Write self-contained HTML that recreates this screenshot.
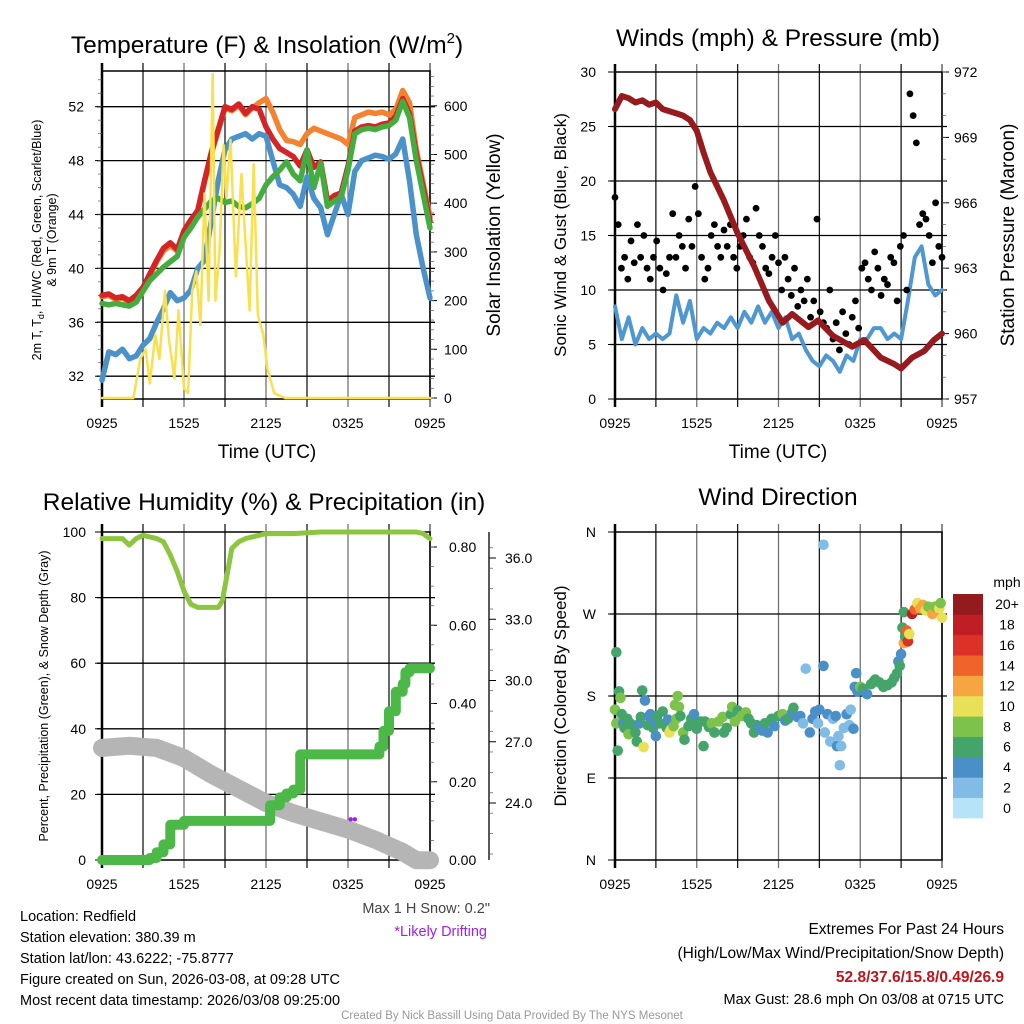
<!DOCTYPE html>
<html><head><meta charset="utf-8">
<style>
html,body{margin:0;padding:0;background:#fff;}
svg{display:block;font-family:"Liberation Sans",Arial,sans-serif;}
</style></head>
<body>
<svg id="c" width="1024" height="1024" viewBox="0 0 1024 1024" xmlns="http://www.w3.org/2000/svg">
<rect width="1024" height="1024" fill="#fff"/>
<!-- titles -->
<text x="267" y="53" font-size="24.5" text-anchor="middle">Temperature (F) &amp; Insolation (W/m<tspan font-size="15" dy="-10">2</tspan><tspan dy="10">)</tspan></text>
<text x="778" y="46" font-size="24.5" text-anchor="middle">Winds (mph) &amp; Pressure (mb)</text>
<text x="264" y="510" font-size="24.5" text-anchor="middle">Relative Humidity (%) &amp; Precipitation (in)</text>
<text x="778" y="505" font-size="24.5" text-anchor="middle">Wind Direction</text>
<!-- axis titles -->
<text x="267" y="458" font-size="19" text-anchor="middle">Time (UTC)</text>
<text x="778" y="458" font-size="19" text-anchor="middle">Time (UTC)</text>
<g transform="translate(41,240) rotate(-90)">
<text x="0" y="0" font-size="12.5" text-anchor="middle">2m T, T<tspan font-size="9" dy="3">d</tspan><tspan dy="-3">, HI/WC (Red, Green, Scarlet/Blue)</tspan></text>
<text x="0" y="15" font-size="12.5" text-anchor="middle">&amp; 9m T (Orange)</text></g>
<text transform="translate(500,235) rotate(-90)" font-size="19" text-anchor="middle">Solar Insolation (Yellow)</text>
<text transform="translate(566,235) rotate(-90)" font-size="17" text-anchor="middle">Sonic Wind &amp; Gust (Blue, Black)</text>
<text transform="translate(1014,235) rotate(-90)" font-size="19" text-anchor="middle">Station Pressure (Maroon)</text>
<text transform="translate(48,696) rotate(-90)" font-size="12.5" text-anchor="middle">Percent, Precipitation (Green), &amp; Snow Depth (Gray)</text>
<text transform="translate(566,696) rotate(-90)" font-size="17" text-anchor="middle">Direction (Colored By Speed)</text>
<!-- footer texts -->
<g font-size="14.5">
<text x="20" y="921">Location: Redfield</text>
<text x="20" y="942">Station elevation: 380.39 m</text>
<text x="20" y="963">Station lat/lon: 43.6222; -75.8777</text>
<text x="20" y="984">Figure created on Sun, 2026-03-08, at 09:28 UTC</text>
<text x="20" y="1005">Most recent data timestamp: 2026/03/08 09:25:00</text>
</g>
<text x="490" y="913" font-size="14.5" fill="#444" text-anchor="end">Max 1 H Snow: 0.2"</text>
<text x="487" y="936" font-size="14.5" fill="#a020f0" text-anchor="end">*Likely Drifting</text>
<g font-size="15.5" text-anchor="end">
<text x="1004" y="934">Extremes For Past 24 Hours</text>
<text x="1004" y="958">(High/Low/Max Wind/Precipitation/Snow Depth)</text>
<text x="1004" y="982" fill="#c0141c" font-weight="bold">52.8/37.6/15.8/0.49/26.9</text>
<text x="1004" y="1004" font-size="14.5">Max Gust: 28.6 mph On 03/08 at 0715 UTC</text>
</g>
<text x="512" y="1019" font-size="11.5" fill="#999" text-anchor="middle">Created By Nick Bassill Using Data Provided By The NYS Mesonet</text>
</svg>
<script>
// ---------- DATA ----------
const timeLabels = ["0925","1525","2125","0325","0925"];
const tempLeftTicks = [32,36,40,44,48,52];
const solarTicks = [0,100,200,300,400,500,600];
const airTemp = [38.0,38.1,37.8,37.9,37.6,38.0,38.6,39.6,40.6,41.5,41.9,41.4,42.8,43.6,44.3,46.5,48.6,50.3,52.0,51.8,52.2,51.5,52.0,51.8,50.5,49.6,48.9,48.6,48.3,47.6,48.8,47.5,47.9,45.0,45.4,45.6,47.6,50.2,50.5,50.6,50.5,50.7,50.8,51.3,52.6,51.5,48.5,46.0,43.5];
const dewTemp = [37.4,37.3,37.4,37.3,37.2,37.5,38.3,39.1,39.6,40.1,40.5,40.9,42.3,43.0,43.8,44.4,45.0,45.2,44.9,45.0,44.6,44.5,44.8,45.2,46.2,46.8,47.3,47.9,47.0,46.5,48.8,46.0,47.8,44.6,45.0,45.3,47.3,50.0,50.3,50.4,50.3,50.5,50.6,51.0,52.4,51.2,48.0,45.5,43.0];
const temp9m = [37.9,38.0,37.7,37.8,37.5,37.9,38.5,39.5,40.5,41.3,41.7,41.3,42.7,43.5,44.2,46.4,48.5,50.2,51.9,51.7,52.1,51.4,51.9,52.3,52.6,51.6,50.3,49.5,49.4,49.2,50.0,50.4,50.2,50.0,49.8,49.6,49.2,51.2,51.4,51.6,51.5,51.6,51.4,51.8,53.2,52.3,48.8,46.3,43.8];
const windChill = [31.7,33.8,33.6,34.0,33.3,33.5,34.3,34.8,36.0,37.0,38.2,37.6,37.8,38.4,40.0,40.6,43.5,46.5,48.8,49.6,49.8,50.0,49.6,50.0,49.8,48.0,46.2,46.0,45.5,44.6,46.8,45.2,44.5,42.5,44.0,45.5,44.0,47.2,48.0,48.2,48.4,48.3,48.1,48.5,49.6,46.5,42.5,40.0,37.8];
const solarHours = [0,2.3,2.8,3.2,3.5,3.9,4.2,4.6,4.9,5.3,5.6,6.0,6.3,6.6,6.9,7.2,7.5,7.8,8.1,8.3,8.6,8.9,9.1,9.4,9.8,10.2,10.5,10.8,11.1,11.4,11.8,12.1,12.6,13.4,24];
const solarVals = [0,0,80,100,30,130,80,220,120,40,180,20,10,220,260,150,420,200,665,200,300,520,410,530,250,460,320,180,480,170,130,60,10,0,0];

const windTicks = [0,5,10,15,20,25,30];
const pressTicks = [957,960,963,966,969,972];
const sonicWind = [8.5,5.5,7.5,5.0,6.5,5.5,6.0,5.5,6.0,9.5,7.0,9.0,5.5,6.5,6.0,7.0,6.5,7.5,6.5,8.0,7.0,8.5,7.0,8.0,6.5,7.5,5.5,6.0,4.5,3.5,3.0,4.0,3.5,2.5,4.0,3.5,5.5,5.5,6.5,6.5,5.5,6.0,5.5,9.0,13.0,14.0,10.5,9.5,10.0];
const gusts = [18.5,16,12,13,11,14.5,12.5,16,13,15,12,11,13,14.5,12,10,11.5,13,17,13,15,14,12,16.5,14,19.5,17,13,11,12,15,16,14,13,15.5,14,16,13,12,14,15,16.5,13,12.5,17.5,15,14,12,11.5,13,15,12.5,10,13,11,9.5,12,8.5,10,9,11,7.5,9,16.5,8,7,6.5,10,5.5,7,4.5,8,6,5,7.5,9,6.5,12,12.5,11,10,13.5,12,9.5,11,10.5,13,12.5,9,14,15,10,28,26,23.5,16,17,16.5,15,12.5,18,14,13];
const pressHours = [0,0.5,1,1.5,2,2.5,3,3.5,4,4.5,5,5.5,6,6.5,7,8,9,10.2,11.3,12.3,13,14.2,14.9,16,17.4,18.3,19.5,20.5,21,21.8,22.7,23.4,24];
const pressure = [970.3,970.9,970.8,970.6,970.7,970.5,970.6,970.3,970.2,970.1,970.0,969.8,969.3,968.3,967.4,966.1,964.6,963.1,961.5,960.5,960.9,960.3,960.6,959.9,959.4,959.7,958.9,958.6,958.4,958.9,959.2,959.7,960.0];

const pctTicks = [0,20,40,60,80,100];
const precipTicks = ["0.00","0.20","0.40","0.60","0.80"];
const snowTicks = ["24.0","27.0","30.0","33.0","36.0"];
const rhHours = [0,1.5,2,2.5,3,4,4.5,5,5.5,6,6.5,7,8,8.5,8.8,9.2,9.5,10,10.5,12,14,16,20,23,23.5,24];
const rh = [98,98,96,98,99,98,97,93,88,82,78,77,77,77,79,88,95,97,98,99.5,99.5,100,100,100,99.5,98];
const precipHours = [0,3.5,4,4.5,5,6,12,12.3,13,13.5,14,14.5,20,20.3,20.6,21,21.5,22,22.2,22.5,24];
const precip = [0,0.005,0.02,0.04,0.09,0.10,0.10,0.14,0.16,0.17,0.18,0.27,0.27,0.29,0.33,0.38,0.43,0.45,0.48,0.49,0.49];
const snowHours = [0,2,4,6,8,10,12,14,16,18,20,22,23,24];
const snowDepth = [26.7,26.8,26.7,26.2,25.4,24.7,24.0,23.5,23.1,22.7,22.2,21.6,21.2,21.2];
const driftHours = [18.2,18.5];
const driftDepth = [23.2,23.2];

const dirLabels = ["N","E","S","W","N"];
const dirHours = [0,0.1,0.1,0.2,0.3,0.4,0.5,0.6,0.7,0.9,1,1.1,1.3,1.5,1.6,1.8,1.9,2,2.1,2.2,2.4,2.5,2.6,2.8,3,3,3.1,3.3,3.5,3.8,3.9,4,4.1,4.3,4.4,4.5,4.6,4.7,4.8,5,5.1,5.4,5.6,5.8,6,6.1,6.3,6.5,6.6,6.9,7.1,7.3,7.6,7.9,8,8.2,8.5,8.6,8.8,9,9.3,9.6,9.8,10,10.2,10.4,10.6,10.8,11,11.2,11.5,11.7,12,12.3,12.5,12.7,13,13.1,13.4,13.6,13.8,14,14.3,14.5,14.7,14.9,15,15.3,15.3,15.4,15.6,15.8,16,16.2,16.3,16.4,16.5,16.6,16.8,17,17.2,17.3,17.5,17.6,17.7,17.8,18,18.2,18.5,18.8,19,19.1,19.4,19.7,19.8,20,20.3,20.5,20.7,20.8,20.9,21,21.1,21.2,21.2,21.3,21.4,21.5,21.6,21.8,22,22.2,22.4,22.6,22.8,23,23.3,23.5,23.8,23.9,24];
const dirs = [165,228,150,120,185,178,160,150,145,155,138,150,148,140,130,150,157,186,124,175,148,158,160,145,150,136,158,150,163,145,154,140,143,147,170,155,180,168,158,140,132,147,155,160,144,150,152,125,152,146,150,140,152,157,140,145,160,168,152,164,158,162,155,150,140,148,146,142,150,140,155,147,158,160,153,155,162,167,157,158,150,210,140,155,163,150,165,213,346,140,160,130,155,158,125,136,104,125,145,160,148,165,144,190,205,185,190,188,182,193,196,198,195,190,192,192,195,200,205,218,213,226,255,238,272,245,252,240,248,270,275,282,276,280,274,278,270,278,276,282,266];
const speeds = [7,6,8,6,6,8,6,4,6,6,8,6,6,6,6,4,6,6,9,4,6,4,4,6,4,4,6,6,6,6,4,9,10,8,8,8,8,8,6,8,6,6,6,4,6,6,6,6,6,6,8,6,8,8,6,6,6,8,8,6,8,8,6,6,6,6,4,4,6,4,6,4,6,8,4,6,4,6,4,4,2,2,4,4,4,2,4,4,2,2,4,2,2,4,4,2,1,2,2,4,2,2,4,4,4,4,8,6,4,6,6,6,6,6,6,6,6,6,6,4,6,4,6,12,6,6,14,16,10,18,14,10,12,12,10,8,12,8,10,8,10];
const cbLabels = ["0","2","4","6","8","10","12","14","16","18","20+"];
const cbColors = ["#b7e3f8","#80bce6","#4a8fc8","#45a46a","#7dc24a","#e8e057","#f7a540","#f0632a","#dc3127","#be1e24","#931b1e"];

// ---------- HELPERS ----------
const NS="http://www.w3.org/2000/svg";
const svg=document.getElementById('c');
function mk(tag,attrs,parent){const e=document.createElementNS(NS,tag);for(const k in attrs)e.setAttribute(k,attrs[k]);(parent||svg).appendChild(e);return e;}
function txt(s,x,y,size,anchor,parent){const t=mk('text',{x:x,y:y,'font-size':size,'text-anchor':anchor},parent);t.textContent=s;return t;}
function hx(x0,x1){return h=>x0+(x1-x0)*h/24;}
function lin(v0,y0,v1,y1){return v=>y0+(y1-y0)*(v-v0)/(v1-v0);}

function frame(name,X0,X1,Y0,Y1,hGrid){
  const g=mk('g',{});
  
  
  const X=hx(X0,X1);
  for(let h=3;h<24;h+=3) mk('line',{x1:X(h),x2:X(h),y1:Y0-8,y2:Y1+8,stroke:'#000','stroke-width':1.3,'stroke-opacity':(h%6==0?0.55:0.9)},g);
  hGrid.forEach(y=>mk('line',{x1:X0-5,x2:X1+5,y1:y,y2:y,stroke:'#000','stroke-width':1.3},g));
  mk('rect',{x:X0,y:Y0,width:X1-X0,height:Y1-Y0,fill:'none',stroke:'#000','stroke-width':1.5},g);
  mk('line',{x1:X0,x2:X0,y1:Y0-8,y2:Y1+8,stroke:'#000','stroke-width':2.5},g);
  mk('line',{x1:X1,x2:X1,y1:Y0-8,y2:Y1+8,stroke:'#000','stroke-width':1.5,'stroke-opacity':0.6},g);
  const lg=mk('g',{});
  
  
  timeLabels.forEach((s,i)=>txt(s,X(i*6),Y1+29,14,'middle',lg));
  return X;
}
function poly(pts,color,w,name,extra){
  const p=mk('polyline',Object.assign({points:pts.map(q=>q[0].toFixed(1)+','+q[1].toFixed(1)).join(' '),fill:'none',stroke:color,'stroke-width':w,'stroke-linejoin':'round','stroke-linecap':'round'},extra||{}));
  
  
  return p;
}

// ---------- PANEL 1 ----------
(function(){
  const X0=102,X1=430,Y0=71,Y1=399;
  const yT=lin(52,106.7,48,160.6), yS=lin(0,398,600,105.8);
  const X=frame('temp-panel',X0,X1,Y0,Y1,tempLeftTicks.map(yT));
  const lt=mk('g',{});
  
  
  tempLeftTicks.forEach(v=>{txt(String(v),84,yT(v)+5,14,'end',lt);mk('line',{x1:X0-7,x2:X0,y1:yT(v),y2:yT(v),stroke:'#000'},lt);});
  for(let v=31;v<=54;v++) if(yT(v)>Y0&&yT(v)<Y1) mk('line',{x1:X0-4,x2:X0,y1:yT(v),y2:yT(v),stroke:'#555','stroke-width':0.7},lt);
  const rt=mk('g',{});
  
  
  solarTicks.forEach(v=>{txt(String(v),444,yS(v)+5,14,'start',rt);mk('line',{x1:X1,x2:X1+7,y1:yS(v),y2:yS(v),stroke:'#000'},rt);});
  for(let v=0;v<=660;v+=20) mk('line',{x1:X1,x2:X1+4,y1:yS(v),y2:yS(v),stroke:'#555','stroke-width':0.7},rt);
  const T=(arr)=>arr.map((v,i)=>[X(i*0.5),yT(v)]);
  poly(T(temp9m),'#f5822e',5.5,'temp-9m-line');
  poly(T(airTemp),'#d42426',5.5,'air-temp-line');
  poly(T(windChill),'#4b92cb',5.5,'wind-chill-line');
  poly(T(dewTemp),'#45ad3f',5.5,'dewpoint-line');
  poly(solarHours.map((h,i)=>[X(h),Math.max(Y0,yS(solarVals[i]))]),'#f9e04f',2.5,'solar-line');
})();

// ---------- PANEL 2 ----------
(function(){
  const X0=615,X1=942,Y0=72,Y1=399;
  const yW=lin(0,399,30,72), yP=lin(957,399,972,72);
  const X=frame('wind-panel',X0,X1,Y0,Y1,[5,10,15,20,25].map(yW));
  const lt=mk('g',{});
  
  
  windTicks.forEach(v=>{txt(String(v),596,yW(v)+5,14,'end',lt);mk('line',{x1:X0-7,x2:X0,y1:yW(v),y2:yW(v),stroke:'#000'},lt);});
  const rt=mk('g',{});
  
  
  pressTicks.forEach(v=>{txt(String(v),954,yP(v)+5,14,'start',rt);mk('line',{x1:X1,x2:X1+7,y1:yP(v),y2:yP(v),stroke:'#000'},rt);});
  for(let v=957;v<=972;v++) mk('line',{x1:X1,x2:X1+4,y1:yP(v),y2:yP(v),stroke:'#555','stroke-width':0.7},rt);
  poly(sonicWind.map((v,i)=>[X(i*0.5),yW(v)]),'#4f97d1',4,'sonic-wind-line');
  const gg=mk('g',{});
  
  
  const n=gusts.length;
  gusts.forEach((v,i)=>{const c=mk('circle',{cx:X(i*24/(n-1)),cy:yW(v),r:3.4,fill:'#000'},gg);
    
    });
  poly(pressHours.map((h,i)=>[X(h),yP(pressure[i])]),'#961a1e',6,'pressure-line');
})();

// ---------- PANEL 3 ----------
(function(){
  const X0=102,X1=430,Y0=532,Y1=860;
  const yR=lin(0,860,100,532), yPr=lin(0,860,0.8,547), ySn=lin(24,803,36,558);
  const X=frame('rh-panel',X0,X1,Y0,Y1,[20,40,60,80].map(yR));
  const lt=mk('g',{});
  
  
  pctTicks.forEach(v=>{txt(String(v),86,yR(v)+5,14,'end',lt);mk('line',{x1:X0-7,x2:X0,y1:yR(v),y2:yR(v),stroke:'#000'},lt);});
  const pt=mk('g',{});
  
  
  precipTicks.forEach(s=>{const v=parseFloat(s);txt(s,449,yPr(v)+5,14,'start',pt);mk('line',{x1:X1,x2:X1+7,y1:yPr(v),y2:yPr(v),stroke:'#000'},pt);});
  for(let v=0;v<=0.84;v+=0.05) mk('line',{x1:X1,x2:X1+4,y1:yPr(v),y2:yPr(v),stroke:'#555','stroke-width':0.7},pt);
  const st=mk('g',{});
  
  
  mk('line',{x1:489,x2:489,y1:532,y2:860,stroke:'#000','stroke-width':1.3},st);
  snowTicks.forEach(s=>{const v=parseFloat(s);txt(s,505,ySn(v)+5,14,'start',st);mk('line',{x1:489,x2:496,y1:ySn(v),y2:ySn(v),stroke:'#000'},st);});
  for(let v=21.5;v<=37;v+=1) mk('line',{x1:489,x2:493,y1:ySn(v),y2:ySn(v),stroke:'#555','stroke-width':0.7},st);
  poly(snowHours.map((h,i)=>[X(h),ySn(snowDepth[i])]),'#b5b5b5',18,'snow-depth-line');
  poly(rhHours.map((h,i)=>[X(h),yR(rh[i])]),'#8cc63f',5,'rh-line');
  const pp=[];precipHours.forEach((h,i)=>{if(i>0)pp.push([X(h),yPr(precip[i-1])]);pp.push([X(h),yPr(precip[i])]);});
  poly(pp,'#4cb847',10,'precip-line');
  driftHours.forEach((h,i)=>{const c=mk('circle',{cx:X(h),cy:ySn(driftDepth[i]),r:2.2,fill:'#a020f0'});
    
    });
})();

// ---------- PANEL 4 ----------
(function(){
  const X0=615,X1=942,Y0=532,Y1=860;
  const yD=lin(0,860,360,532);
  const X=frame('dir-panel',X0,X1,Y0,Y1,[90,180,270].map(yD));
  const lt=mk('g',{});
  
  
  dirLabels.forEach((s,i)=>{txt(s,596,yD(i*90)+5,14,'end',lt);mk('line',{x1:X0-7,x2:X0,y1:yD(i*90),y2:yD(i*90),stroke:'#000'},lt);});
  const dg=mk('g',{});
  
  
  dirHours.forEach((h,i)=>{const idx=Math.min(10,Math.round(speeds[i]/2));
    const c=mk('circle',{cx:X(h),cy:yD(dirs[i]),r:5.3,fill:cbColors[idx]},dg);
    
    });
  const cb=mk('g',{});
  
  
  const bh=224/11;
  cbColors.forEach((col,i)=>{mk('rect',{x:953,y:818-(i+1)*bh,width:30,height:bh+0.4,fill:col},cb);
    txt(cbLabels[i],1007,818-(i+0.5)*bh+5,14,'middle',cb);});
  txt('mph',1007,587,14,'middle',cb);
})();
</script>
</body></html>
